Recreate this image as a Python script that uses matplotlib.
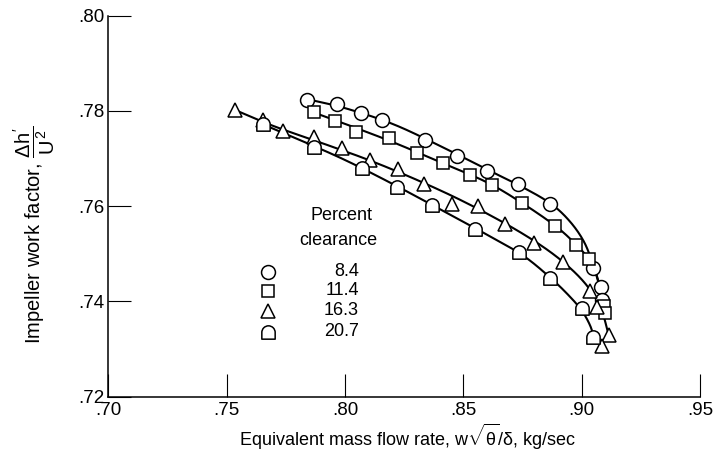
import numpy as np
import matplotlib
matplotlib.use("Agg")
import matplotlib.pyplot as plt
from matplotlib.path import Path

plt.rcParams['font.family'] = ['Liberation Sans', 'DejaVu Sans']
plt.rcParams['mathtext.fontset'] = 'custom'
plt.rcParams['mathtext.rm'] = 'Liberation Sans'
plt.rcParams['mathtext.it'] = 'Liberation Sans'
plt.rcParams['mathtext.bf'] = 'Liberation Sans:bold'

# ---------------- data ----------------
x_ticks = [0.70, 0.75, 0.80, 0.85, 0.90, 0.95]
x_tick_labels = ['.70', '.75', '.80', '.85', '.90', '.95']
y_ticks = [0.72, 0.74, 0.76, 0.78, 0.80]
y_tick_labels = ['.72', '.74', '.76', '.78', '.80']

clearances = ['8.4', '11.4', '16.3', '20.7']

# measured points
c84_x = [.7839, .7965, .8068, .8157, .8339, .8473, .8601, .8732, .8867, .9050, .9081, .9087]
c84_y = [.7823, .7814, .7795, .7782, .7740, .7706, .7674, .7647, .7605, .7469, .7431, .7403]

c114_x = [.7867, .7958, .8047, .8184, .8304, .8416, .8529, .8621, .8747, .8888, .8977, .9033, .9093, .9098]
c114_y = [.7797, .7779, .7756, .7743, .7711, .7690, .7665, .7645, .7606, .7558, .7518, .7488, .7390, .7376]

c163_x = [.7536, .7653, .7740, .7869, .7988, .8106, .8222, .8332, .8452, .8561, .8677, .8799, .8921, .9036, .9066, .9114, .9086]
c163_y = [.7802, .7781, .7758, .7746, .7723, .7697, .7679, .7646, .7605, .7600, .7562, .7522, .7482, .7422, .7389, .7329, .7306]

c207_x = [.7653, .7867, .8071, .8219, .8367, .8548, .8737, .8867, .9001, .9050]
c207_y = [.7772, .7725, .7680, .7641, .7602, .7553, .7504, .7448, .7385, .7326]

# faired curves (knots)
f84_x = [.7839, .800, .820, .840, .860, .875, .887, .895, .901, .905, .9075, .9091]
f84_y = [.7825, .7806, .7773, .7727, .7677, .7640, .7605, .7568, .7525, .7475, .7435, .7400]

f114_x = [.7867, .800, .820, .840, .860, .875, .889, .8977, .9033, .906, .9082, .9098]
f114_y = [.7797, .7773, .7735, .7693, .7650, .7606, .7558, .7519, .7487, .7458, .7415, .7375]

f163_x = [.7536, .770, .790, .810, .830, .850, .870, .885, .896, .9036, .9085, .9114]
f163_y = [.7802, .7768, .7733, .7697, .7656, .7610, .7557, .7510, .7466, .7424, .7380, .7329]

f207_x = [.7653, .780, .800, .820, .840, .860, .875, .8867, .895, .9001, .9035, .9055]
f207_y = [.7772, .7741, .7697, .7647, .7594, .7540, .7497, .7450, .7410, .7380, .7350, .7320]


# ---------------- helpers ----------------
def smooth(xs, ys, n=24):
    """Catmull-Rom curve through the knots (computed in normalized space)."""
    p = np.column_stack([(np.asarray(xs) - 0.70) / 0.25, (np.asarray(ys) - 0.72) / 0.08])
    p = np.vstack([2 * p[0] - p[1], p, 2 * p[-1] - p[-2]])
    out = []
    for i in range(1, len(p) - 2):
        p0, p1, p2, p3 = p[i - 1], p[i], p[i + 1], p[i + 2]
        t = np.linspace(0, 1, n, endpoint=False)[:, None]
        seg = 0.5 * ((2 * p1) + (-p0 + p2) * t + (2 * p0 - 5 * p1 + 4 * p2 - p3) * t ** 2
                     + (-p0 + 3 * p1 - 3 * p2 + p3) * t ** 3)
        out.append(seg)
    out.append(p[-2][None, :])
    out = np.vstack(out)
    return out[:, 0] * 0.25 + 0.70, out[:, 1] * 0.08 + 0.72


def arch_marker():
    arc = Path.arc(0, 180)
    verts = list(arc.vertices * 0.5)
    codes = list(arc.codes)
    verts += [(-0.5, -0.5), (0.5, -0.5), (0.5, 0.0)]
    codes += [Path.LINETO, Path.LINETO, Path.CLOSEPOLY]
    return Path(verts, codes)


ARCH = arch_marker()

# ---------------- figure ----------------
fig = plt.figure(figsize=(7.14, 4.57), dpi=100)
ax = fig.add_axes([108.3 / 714, 1 - 396.5 / 457, (700 - 108.3) / 714, (396.5 - 15.8) / 457])

ax.set_xlim(0.70, 0.95)
ax.set_ylim(0.72, 0.80)

series = [
    (c84_x, c84_y, f84_x, f84_y, 'o', 10.0),
    (c114_x, c114_y, f114_x, f114_y, 's', 8.6),
    (c163_x, c163_y, f163_x, f163_y, '^', 10.5),
    (c207_x, c207_y, f207_x, f207_y, ARCH, 9.6),
]

for px, py, fx, fy, m, ms in series:
    sx, sy = smooth(fx, fy)
    ax.plot(sx, sy, color='black', lw=1.5, zorder=2, solid_capstyle='round')
    ax.plot(px, py, linestyle='none', marker=m, markersize=ms, markerfacecolor='white',
            markeredgecolor='black', markeredgewidth=1.1, zorder=3, clip_on=False)

# legend (drawn as text + markers)
ax.text(0.7984, 0.7581, 'Percent', ha='center', va='center', fontsize=13)
ax.text(0.7971, 0.7528, 'clearance', ha='center', va='center', fontsize=13)
leg_y = [0.7462, 0.7422, 0.7380, 0.7336]
leg_m = [('o', 10.0), ('s', 8.6), ('^', 10.5), (ARCH, 9.6)]
for lab, yy, (m, ms) in zip(clearances, leg_y, leg_m):
    ax.plot([0.7676], [yy], linestyle='none', marker=m, markersize=ms, markerfacecolor='white',
            markeredgecolor='black', markeredgewidth=1.1)
    ax.text(0.8058, yy, lab, ha='right', va='center', fontsize=13)

# axes styling
for s in ['top', 'right']:
    ax.spines[s].set_visible(False)
for s in ['left', 'bottom']:
    ax.spines[s].set_linewidth(1.1)
ax.set_xticks(x_ticks)
ax.set_xticklabels(x_tick_labels)
ax.set_yticks(y_ticks)
ax.set_yticklabels(y_tick_labels)
ax.tick_params(direction='in', length=16.5, width=0.8, labelsize=13.5, pad=3)
ax.tick_params(axis='x', pad=4)

fig.text(408 / 714, 1 - 437 / 457,
         r'Equivalent mass flow rate, w$\sqrt{\mathrm{\theta}}/\mathrm{\delta}$, kg/sec',
         ha='center', va='center', fontsize=13)
fig.text(34 / 714, 1 - 235 / 457,
         r"Impeller work factor, $\dfrac{\Delta h'}{U^2}$",
         ha='center', va='center', rotation=90, fontsize=14.5)

fig.savefig('out.png', dpi=100, facecolor='white')
